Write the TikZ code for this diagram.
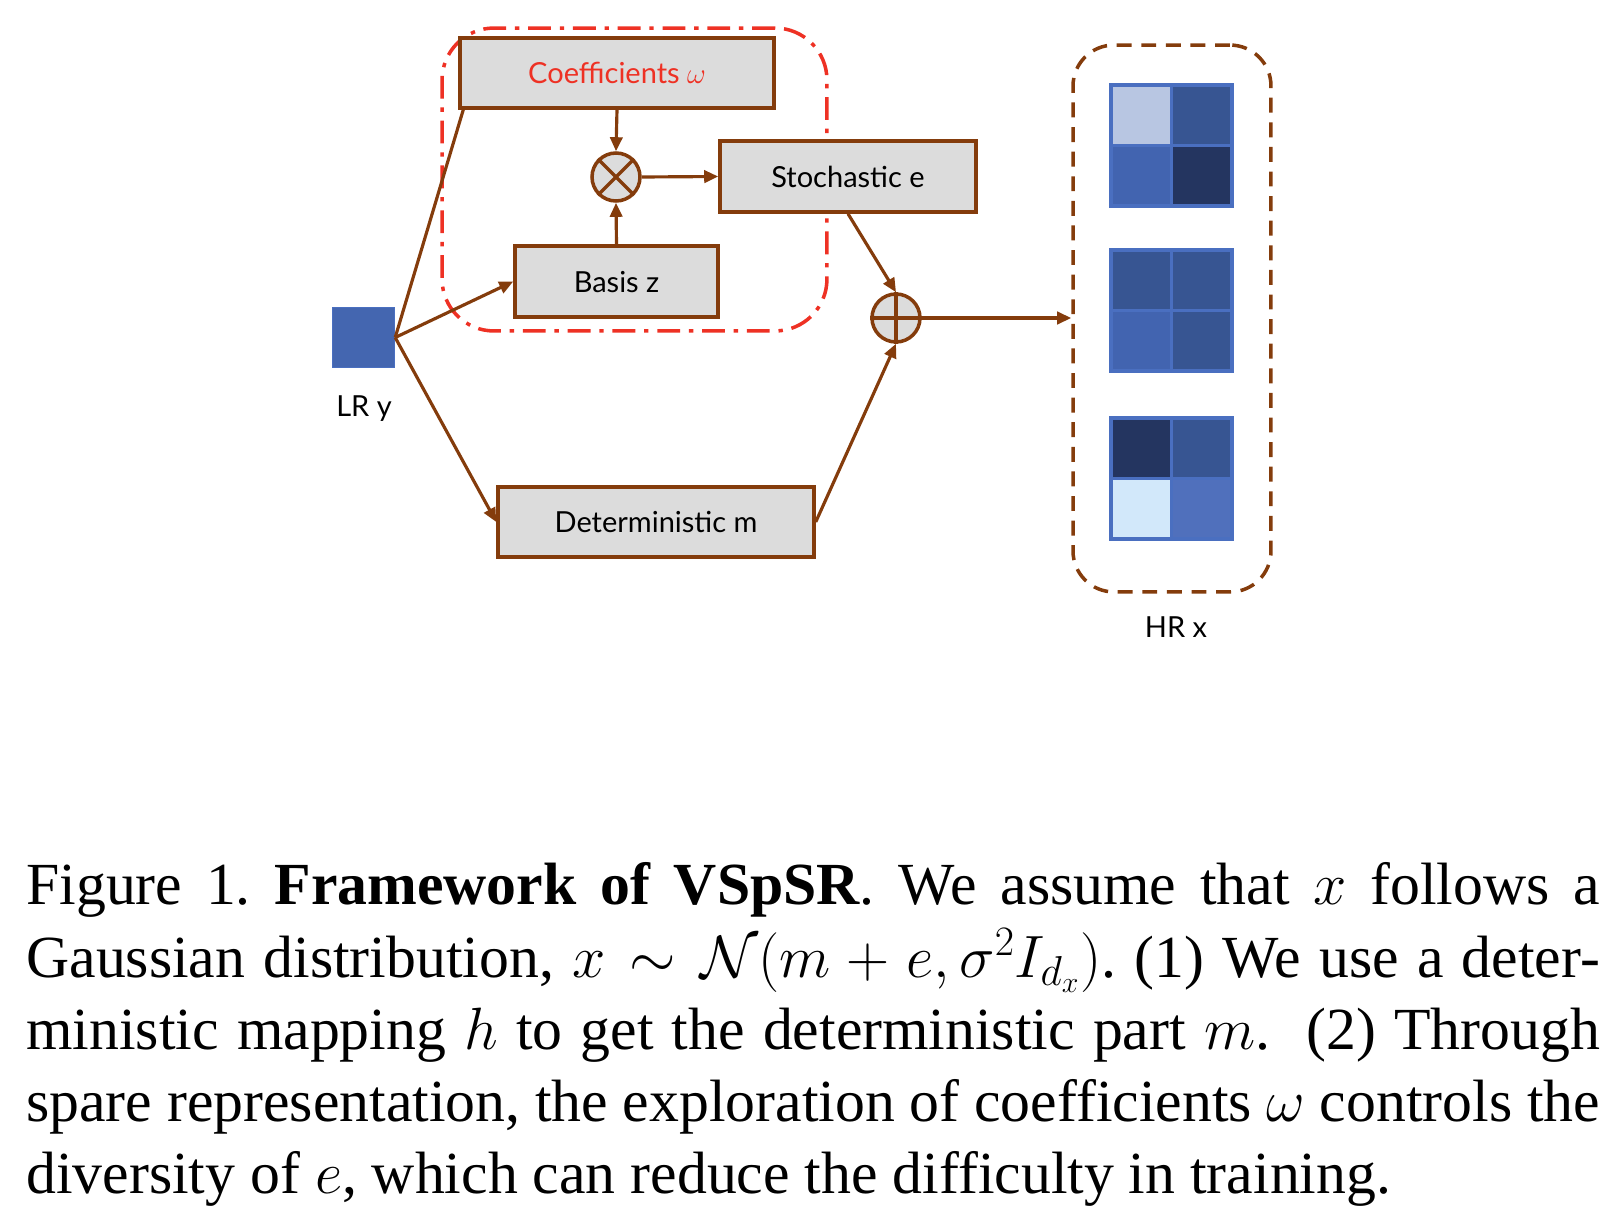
\RequirePackage{fix-cm}
\documentclass[tikz,border=0pt]{standalone}
\usepackage{fontspec}
\setmainfont{Liberation Serif}
\newfontfamily\diafont{Lato}
\usetikzlibrary{arrows.meta,calc}
\frenchspacing
\definecolor{brn}{HTML}{843C0C}
\definecolor{redg}{HTML}{EE3124}
\definecolor{boxg}{HTML}{DCDCDC}
\definecolor{blu}{HTML}{4466B0}
\definecolor{edgeb}{HTML}{4A6FC0}
\definecolor{cLight}{HTML}{B8C6E2}
\definecolor{cDark}{HTML}{375592}
\definecolor{cMed}{HTML}{4264B0}
\definecolor{cVdark}{HTML}{243560}
\definecolor{cVlight}{HTML}{D2E8FA}
\definecolor{cMedb}{HTML}{5070BC}
\newcommand\hrgridcells[6]{%
  \fill[#3] (#1,#2) rectangle ++(60.5,60.5);
  \fill[#4] (#1+60.5,#2) rectangle ++(60.5,60.5);
  \fill[#5] (#1,#2+60.5) rectangle ++(60.5,60.5);
  \fill[#6] (#1+60.5,#2+60.5) rectangle ++(60.5,60.5);
  \draw[edgeb,line width=1.8pt] (#1,#2) rectangle ++(121,121);
  \draw[edgeb,line width=1.8pt] (#1+60.5,#2) -- ++(0,121);
  \draw[edgeb,line width=1.8pt] (#1,#2+60.5) -- ++(121,0);
}
\begin{document}
\begin{tikzpicture}[x=0.02cm,y=-0.02cm,
  box/.style={draw=brn, line width=2pt, fill=boxg, inner sep=0pt, text depth=0pt,
    font=\diafont\fontsize{16.5}{19}\selectfont},
  opcirc/.style={circle, draw=brn, line width=2pt, fill=boxg, minimum size=0.96cm, inner sep=0pt},
  conn/.style={draw=brn, line width=1.8pt},
  arr/.style={conn, -{Triangle[length=8pt,width=7pt]}},
  lbl/.style={font=\diafont\fontsize{16.5}{19}\selectfont, inner sep=0pt},
  captxt/.style={anchor=base west, inner sep=0pt, font=\fontsize{34}{41}\selectfont}
]
\useasboundingbox (0,0) rectangle (1624,1214);

% group outlines
\node (grp) [draw=redg, line width=2pt, rounded corners=1.04cm,
  dash pattern=on 13pt off 5pt on 2.5pt off 5pt,
  minimum width=7.70cm, minimum height=6.06cm] at (634.5,179.5) {};
\node (hr) [draw=brn, line width=2pt, rounded corners=0.82cm,
  dash pattern=on 8.5pt off 5.5pt,
  minimum width=3.96cm, minimum height=10.94cm] at (1172,318.5) {};

% nodes
\node (coef) [box, minimum width=6.28cm, minimum height=1.40cm] at (617,73)
  {\textcolor{redg}{Coefficients $\omega$}};
\node (stoch) [box, minimum width=5.12cm, minimum height=1.42cm] at (848,176.5) {Stochastic e};
\node (basis) [box, minimum width=4.06cm, minimum height=1.42cm] at (616.5,281.5) {Basis z};
\node (det) [box, minimum width=6.32cm, minimum height=1.40cm] at (656,522) {Deterministic m};
\node (lr) [fill=blu, draw=edgeb, line width=0.8pt, minimum width=1.24cm, minimum height=1.20cm, inner sep=0pt] at (363.5,337.5) {};
\node (lrlbl) [lbl] at (364,409) {LR y};
\node (hrlbl) [lbl] at (1176,627) {HR x};
\node (ot) [opcirc] at (616,177) {};
\draw[brn, line width=2pt] (ot.north east) -- (ot.south west) (ot.north west) -- (ot.south east);
\node (op) [opcirc] at (896,318) {};
\draw[brn, line width=2pt] (op.north) -- (op.south) (op.west) -- (op.east);

% HR grids
\hrgridcells{1111}{85}{cLight}{cDark}{cMed}{cVdark}
\hrgridcells{1111}{250}{cDark}{cDark}{cMed}{cDark}
\hrgridcells{1111}{418}{cVdark}{cDark}{cVlight}{cMedb}

% connectors
\coordinate (coefcorner) at ($(coef.south west)+(5,0)$);
\draw[conn] (lr.east) -- (coefcorner);
\draw[arr] (lr.east) -- (basis.west);
\draw[arr] (lr.east) -- (det.west);
\draw[arr] (coef.south) -- (ot.north);
\draw[arr] (basis.north) -- (ot.south);
\draw[arr] (ot.east) -- (stoch.west);
\draw[arr] (stoch.south) -- (op.north);
\draw[arr] (det.east) -- (op.south);
\draw[arr] (op.east) -- (op.east -| hr.west);

% caption
\node (cap1) [captxt] at (26,904) {\makebox[31.48cm][s]{Figure 1. \textbf{Framework of VSpSR}. We assume that $x$ follows a}};
\node (cap2) [captxt] at (26,977) {\makebox[31.48cm][s]{Gaussian distribution, $x\sim\mathcal{N}(m+e,\sigma^2I_{d_x})$. (1) We use a deter-}};
\node (cap3) [captxt] at (26,1049) {\makebox[31.48cm][s]{ministic mapping $h$ to get the deterministic part $m$.\ \ (2) Through}};
\node (cap4) [captxt] at (26,1121) {\makebox[31.48cm][s]{spare representation, the exploration of coefficients $\omega$ controls the}};
\node (cap5) [captxt] at (26,1193) {diversity of $e$, which can reduce the difficulty in training.};
\end{tikzpicture}
\end{document}
